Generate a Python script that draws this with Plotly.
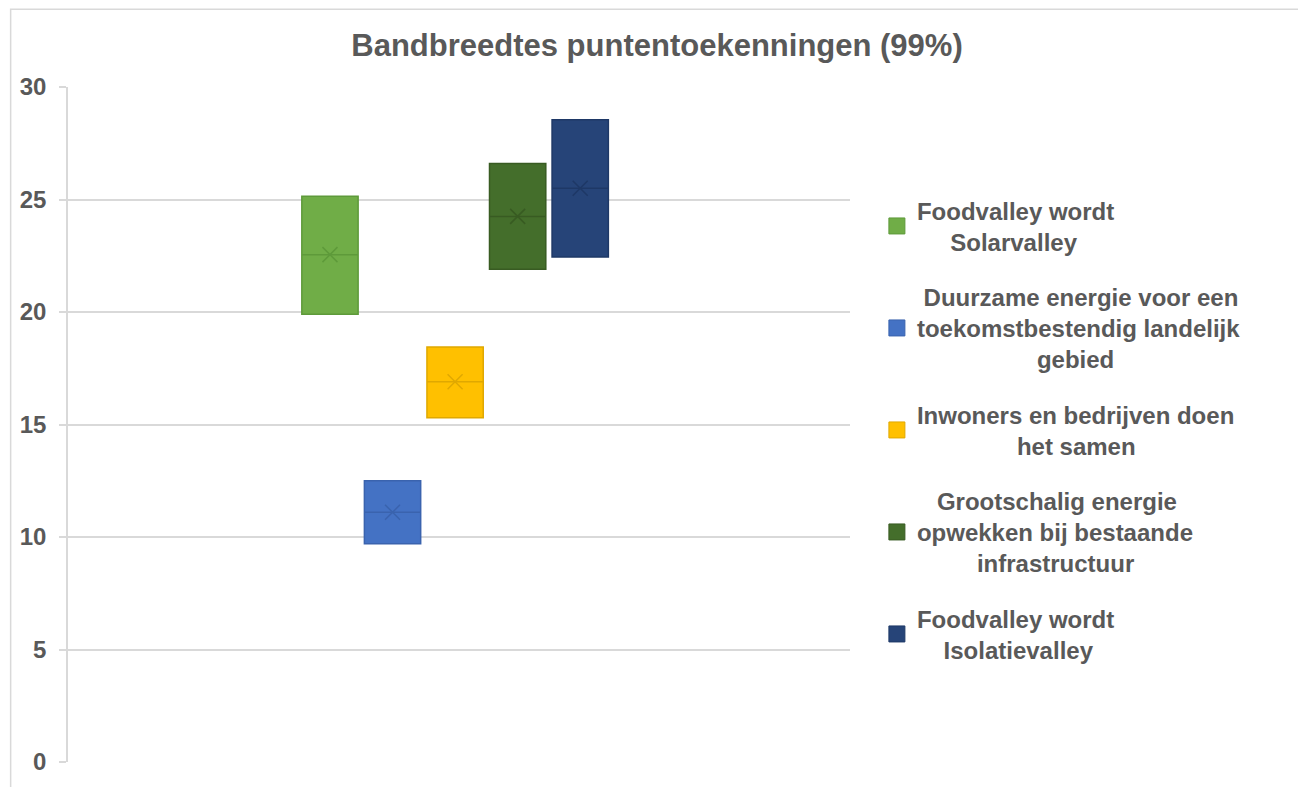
import plotly.graph_objects as go

# Excel-style box chart: one box per scenario, 99% bandwidth of the awarded points
NBSP = "\u00a0"
scenarios = [
    "Foodvalley wordt<br>" + NBSP * 5 + "Solarvalley",
    NBSP + "Duurzame energie voor een<br>toekomstbestendig landelijk<br>" + NBSP * 18 + "gebied",
    "Inwoners en bedrijven doen<br>" + NBSP * 15 + "het samen",
    NBSP * 3 + "Grootschalig energie<br>opwekken bij bestaande<br>" + NBSP * 9 + "infrastructuur",
    "Foodvalley wordt<br>" + NBSP * 4 + "Isolatievalley",
]
lower = [19.9, 9.7, 15.3, 21.9, 22.45]
median = [22.55, 11.1, 16.9, 24.25, 25.5]
upper = [25.15, 12.5, 18.45, 26.6, 28.55]
mean = [22.55, 11.1, 16.9, 24.25, 25.5]

fills = ["#70AD47", "#4472C4", "#FFC000", "#446E2B", "#264478"]
edges = ["#5E9A3A", "#3A63AE", "#E0A800", "#385B22", "#1E3866"]

GREY = "#595959"

fig = go.Figure()
for i, name in enumerate(scenarios):
    fig.add_trace(
        go.Box(
            x=[""],
            q1=[lower[i]],
            median=[median[i]],
            q3=[upper[i]],
            lowerfence=[lower[i]],
            upperfence=[upper[i]],
            name=name,
            offsetgroup=f"g{i}",
            legendgroup=f"g{i}",
            showlegend=False,
            fillcolor=fills[i],
            line=dict(color=edges[i], width=1.5),
            whiskerwidth=0,
            hoverinfo="skip",
        )
    )
    # mean marker (the little x inside each box)
    fig.add_trace(
        go.Scatter(
            x=[""],
            y=[mean[i]],
            mode="markers",
            offsetgroup=f"g{i}",
            legendgroup=f"g{i}",
            showlegend=False,
            marker=dict(symbol="x-thin", size=15, line=dict(color=edges[i], width=1.5)),
            hoverinfo="skip",
        )
    )
    # legend entry: plain square like excel
    fig.add_trace(
        go.Scatter(
            x=[""],
            y=[None],
            mode="markers",
            name=name,
            offsetgroup=f"g{i}",
            legendgroup=f"g{i}",
            marker=dict(symbol="square", size=16, color=fills[i], line=dict(color=edges[i], width=1)),
            hoverinfo="skip",
        )
    )

fig.update_layout(
    width=1298,
    height=779,
    paper_bgcolor="white",
    plot_bgcolor="white",
    boxmode="group",
    boxgap=0.6,
    boxgroupgap=0.1,
    scattermode="group",
    scattergap=0.6,
    margin=dict(l=58, r=456, t=79, b=23),
    title=dict(
        text="<b>Bandbreedtes puntentoekenningen (99%)</b>",
        x=(657 - 8) / 1298,
        xanchor="center",
        y=1 - 37 / 779,
        yanchor="middle",
        font=dict(family="Liberation Sans", size=31, color=GREY),
    ),
    xaxis=dict(
        type="category",
        range=[-0.495, 0.505],
        showticklabels=False,
        showgrid=False,
        showline=False,
        zeroline=False,
    ),
    yaxis=dict(
        range=[0, 30],
        dtick=5,
        showgrid=True,
        gridcolor="#D9D9D9",
        gridwidth=1.5,
        showline=True,
        linecolor="#D9D9D9",
        linewidth=1.5,
        ticks="outside",
        ticklen=7,
        tickcolor="#D9D9D9",
        tickwidth=1.5,
        ticklabelstandoff=8,
        zeroline=False,
        tickfont=dict(family="Liberation Sans", size=24, color=GREY, weight="bold"),
    ),
    legend=dict(
        x=1.0344,
        xanchor="left",
        y=0.85,
        yanchor="top",
        traceorder="grouped",
        tracegroupgap=21,
        font=dict(family="Liberation Sans", size=24, color=GREY, weight="bold"),
        itemwidth=30,
    ),
    shapes=[
        dict(
            type="rect",
            xref="paper",
            yref="paper",
            x0=(0.5 - 58) / 784,
            x1=(1296 - 58) / 784,
            y0=-0.1,
            y1=(756 - 1) / 677,
            line=dict(color="#D9D9D9", width=1.5),
            layer="below",
        )
    ],
)

fig.write_html("out.html")
